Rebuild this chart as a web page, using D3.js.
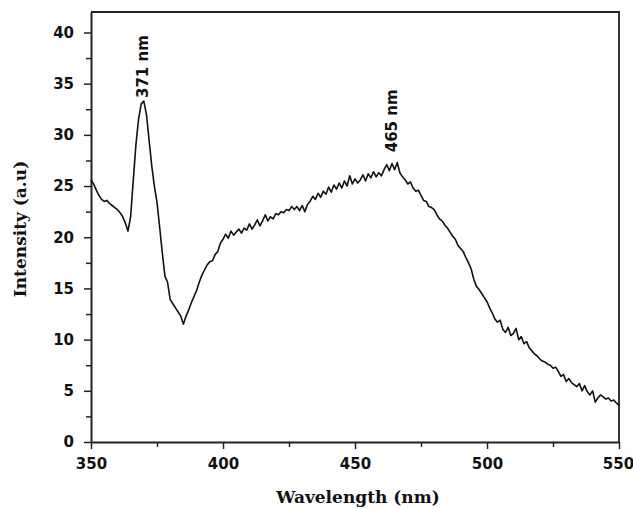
<!DOCTYPE html>
<html>
<head>
<meta charset="utf-8">
<script src="https://cdn.jsdelivr.net/npm/d3@7"></script>
<style>
    body { margin: 0; background: #fff; }
    .axis text { font-family: "DejaVu Sans", sans-serif; font-weight: bold; font-size: 15px; fill: #111; }
    .axis path, .axis line { stroke: #222; }
    .title { font-family: "DejaVu Serif", serif; font-weight: bold; font-size: 17px; fill: #111; }
    .peak { font-family: "DejaVu Sans", sans-serif; font-weight: bold; font-size: 15px; fill: #111; }
</style>
</head>
<body>
<div id="chart"></div>
<script>
// PL emission spectrum (1 nm steps)
const wavelength = [
    350, 351, 352, 353, 354, 355, 356, 357, 358, 359,
    360, 361, 362, 363, 364, 365, 366, 367, 368, 369,
    370, 371, 372, 373, 374, 375, 376, 377, 378, 379,
    380, 381, 382, 383, 384, 385, 386, 387, 388, 389,
    390, 391, 392, 393, 394, 395, 396, 397, 398, 399,
    400, 401, 402, 403, 404, 405, 406, 407, 408, 409,
    410, 411, 412, 413, 414, 415, 416, 417, 418, 419,
    420, 421, 422, 423, 424, 425, 426, 427, 428, 429,
    430, 431, 432, 433, 434, 435, 436, 437, 438, 439,
    440, 441, 442, 443, 444, 445, 446, 447, 448, 449,
    450, 451, 452, 453, 454, 455, 456, 457, 458, 459,
    460, 461, 462, 463, 464, 465, 466, 467, 468, 469,
    470, 471, 472, 473, 474, 475, 476, 477, 478, 479,
    480, 481, 482, 483, 484, 485, 486, 487, 488, 489,
    490, 491, 492, 493, 494, 495, 496, 497, 498, 499,
    500, 501, 502, 503, 504, 505, 506, 507, 508, 509,
    510, 511, 512, 513, 514, 515, 516, 517, 518, 519,
    520, 521, 522, 523, 524, 525, 526, 527, 528, 529,
    530, 531, 532, 533, 534, 535, 536, 537, 538, 539,
    540, 541, 542, 543, 544, 545, 546, 547, 548, 549,
    550
];

const intensity = [
    25.6, 25.2, 24.6, 24.1, 23.7, 23.5, 23.6, 23.3, 23.1, 22.9,
    22.7, 22.4, 22.0, 21.4, 20.6, 22.0, 25.5, 29.0, 31.5, 33.0,
    33.3, 32.0, 29.5, 27.0, 25.0, 23.4, 21.0, 18.5, 16.2, 15.6,
    13.9, 13.5, 13.1, 12.7, 12.3, 11.5, 12.3, 12.9, 13.6, 14.2,
    14.8, 15.6, 16.3, 16.8, 17.3, 17.6, 17.7, 18.3, 18.6, 19.4,
    19.8, 20.3, 19.9, 20.6, 20.2, 20.5, 20.8, 20.4, 20.9, 20.7,
    21.3, 20.8, 21.2, 21.7, 21.1, 21.6, 22.2, 21.6, 22.0, 21.8,
    22.3, 22.2, 22.5, 22.4, 22.7, 22.6, 23.0, 22.7, 23.0, 22.6,
    23.1, 22.5, 23.2, 23.5, 24.0, 23.7, 24.3, 23.9, 24.5, 24.2,
    24.9, 24.4, 25.1, 24.7, 25.3, 24.8, 25.5, 25.0, 26.0, 25.2,
    25.7, 25.3, 25.6, 26.1, 25.5, 26.2, 25.8, 26.4, 25.9, 26.3,
    26.0, 26.6, 27.1, 26.5, 27.2, 26.6, 27.3, 26.3, 25.9, 25.6,
    25.2, 25.4, 24.8, 24.5, 24.6, 24.1, 23.6, 23.5, 23.0, 22.9,
    22.7, 22.2, 21.8, 21.6, 21.2, 20.9, 20.5, 20.1, 19.8, 19.2,
    18.9, 18.6, 18.0, 17.5, 16.9, 15.9, 15.2, 14.9, 14.5, 14.1,
    13.7, 13.1, 12.6, 12.0, 11.7, 11.9, 11.0, 10.7, 11.2, 10.4,
    10.6, 11.1, 10.0, 10.3, 9.6, 9.8, 9.2, 8.9, 8.6, 8.4,
    8.1, 7.9, 7.8, 7.6, 7.5, 7.2, 7.3, 6.9, 6.4, 6.6,
    5.9, 6.2, 5.8, 5.6, 5.4, 5.7, 5.0, 5.5, 4.9, 4.6,
    5.0, 3.9, 4.3, 4.6, 4.4, 4.2, 4.3, 4.0, 4.1, 3.8,
    3.6
];

// axis ticks
const xTicks = [350, 400, 450, 500, 550];
const xMinorTicks = [375, 425, 475, 525];
const yTicks = [0, 5, 10, 15, 20, 25, 30, 35, 40];
const yMinorTicks = [2.5, 7.5, 12.5, 17.5, 22.5, 27.5, 32.5, 37.5];

// peak annotations
const peakLabels = ["371 nm", "465 nm"];
const peakWavelength = [371, 465];
const peakLabelLevel = [33.6, 28.3];

const cfg = {
    width: 633,
    height: 509,
    margin: { top: 12, right: 14, bottom: 67, left: 91 },
    xDomain: [350, 550],
    yDomain: [0, 42]
};

const width = cfg.width - cfg.margin.left - cfg.margin.right;
const height = cfg.height - cfg.margin.top - cfg.margin.bottom;

const x = d3.scaleLinear().domain(cfg.xDomain).range([0, width]);
const y = d3.scaleLinear().domain(cfg.yDomain).range([height, 0]);

const svg = d3.select("#chart")
    .append("svg")
    .attr("width", cfg.width)
    .attr("height", cfg.height)
    .append("g")
    .attr("transform", "translate(" + cfg.margin.left + "," + cfg.margin.top + ")");

// frame on top and right
svg.append("path")
    .attr("d", "M0,0H" + width + "V" + height)
    .attr("fill", "none")
    .attr("stroke", "#222")
    .attr("stroke-width", 1.8);

// minor ticks first, so the major axes draw over them
svg.append("g")
    .attr("class", "axis")
    .attr("transform", "translate(0," + height + ")")
    .call(d3.axisBottom(x).tickValues(xMinorTicks).tickSize(5).tickFormat(""))
    .call(g => g.select(".domain").remove())
    .selectAll("line").attr("stroke-width", 1.5);

svg.append("g")
    .attr("class", "axis")
    .call(d3.axisLeft(y).tickValues(yMinorTicks).tickSize(5).tickFormat(""))
    .call(g => g.select(".domain").remove())
    .selectAll("line").attr("stroke-width", 1.5);

const xAxis = svg.append("g")
    .attr("class", "axis")
    .attr("transform", "translate(0," + height + ")")
    .call(d3.axisBottom(x).tickValues(xTicks).tickSize(7).tickSizeOuter(0).tickPadding(9));
xAxis.select(".domain").attr("stroke-width", 2);
xAxis.selectAll("line").attr("stroke-width", 1.5);
// last label sits right at the edge of the page
xAxis.selectAll(".tick text").filter(d => d === 550).attr("dx", -1).attr("text-anchor", "middle");

const yAxis = svg.append("g")
    .attr("class", "axis")
    .call(d3.axisLeft(y).tickValues(yTicks).tickSize(7).tickSizeOuter(0).tickPadding(10));
yAxis.select(".domain").attr("stroke-width", 2);
yAxis.selectAll("line").attr("stroke-width", 1.5);

// spectrum
const points = wavelength.map((w, i) => [w, intensity[i]]);

svg.append("path")
    .datum(points)
    .attr("fill", "none")
    .attr("stroke", "#111")
    .attr("stroke-width", 1.6)
    .attr("stroke-linejoin", "round")
    .attr("d", d3.line()
        .x(d => x(d[0]))
        .y(d => y(d[1])));

// peak labels, written upwards
svg.selectAll(".peak")
    .data(peakLabels)
    .enter()
    .append("text")
    .attr("class", "peak")
    .attr("transform", (d, i) => "translate(" + (x(peakWavelength[i]) + 2) + "," + y(peakLabelLevel[i]) + ") rotate(-90)")
    .attr("text-anchor", "start")
    .text(d => d);

// axis titles
svg.append("text")
    .attr("class", "title")
    .attr("x", 267)
    .attr("y", height + 61)
    .attr("text-anchor", "middle")
    .text("Wavelength (nm)");

svg.append("text")
    .attr("class", "title")
    .attr("transform", "translate(-65," + (height / 2 + 2) + ") rotate(-90)")
    .attr("text-anchor", "middle")
    .text("Intensity (a.u)");
</script>
</body>
</html>
